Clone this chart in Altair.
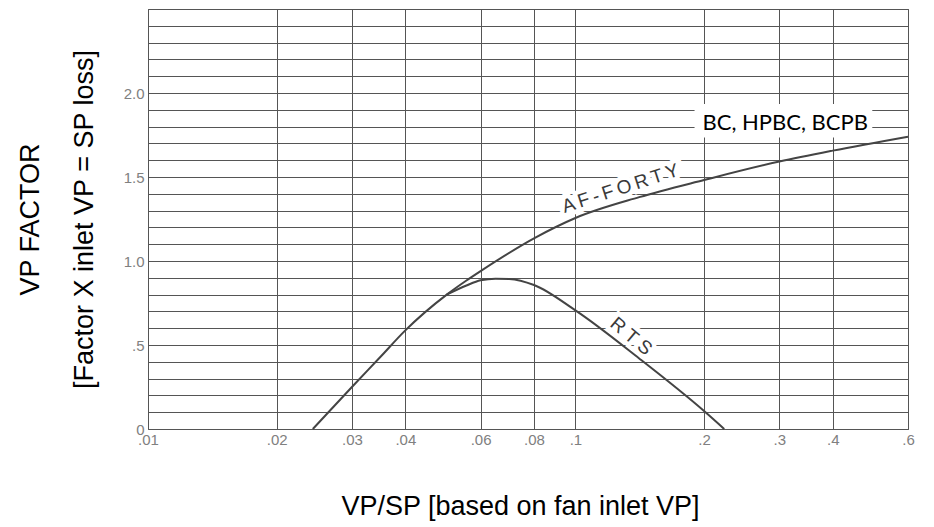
import altair as alt
import pandas as pd

# ---- data ----
af_x = [0.0243, 0.03, 0.035, 0.04, 0.05, 0.0556, 0.06, 0.08, 0.1, 0.141, 0.2, 0.3, 0.4, 0.6]
af_y = [0.0, 0.25, 0.43, 0.587, 0.80, 0.884, 0.94, 1.135, 1.256, 1.38, 1.482, 1.592, 1.657, 1.74]

rts_x = [0.05, 0.0556, 0.06, 0.065, 0.07, 0.08, 0.1, 0.141, 0.2, 0.223]
rts_y = [0.80, 0.854, 0.885, 0.895, 0.893, 0.857, 0.706, 0.42, 0.107, 0.0]

x_ticks = [0.01, 0.02, 0.03, 0.04, 0.06, 0.08, 0.1, 0.2, 0.3, 0.4, 0.6]
y_ticks = [round(i * 0.1, 1) for i in range(26)]

curve_labels = ["A\u2009F\u2009-\u2009F\u2009O\u2009R\u2009T\u2009Y", "R T S"]
curve_label_x = [0.1274, 0.135]
curve_label_y = [1.432, 0.552]
curve_label_angle = [342, 40]

box_text = ["BC, HPBC, BCPB"]
box_x = [0.3096]
box_y = [1.821]
box_x1 = [0.19]
box_x2 = [0.495]
box_y1 = [1.735]
box_y2 = [1.935]

x_title = "VP/SP [based on fan inlet VP]"
y_title = ["VP FACTOR", "[Factor X inlet VP = SP loss]"]

# ---- tables ----
curves = pd.DataFrame({
    "x": af_x + rts_x,
    "y": af_y + rts_y,
    "series": ["AF-FORTY"] * len(af_x) + ["RTS"] * len(rts_x),
})
lab = pd.DataFrame({"x": curve_label_x, "y": curve_label_y,
                    "text": curve_labels, "angle": curve_label_angle})
box = pd.DataFrame({"x": box_x1, "x2": box_x2, "y": box_y1, "y2": box_y2})
boxtxt = pd.DataFrame({"x": box_x, "y": box_y, "text": box_text})

GRID = "#555555"
LAB = "#808080"

X = alt.X("x:Q",
          scale=alt.Scale(type="log", domain=[0.01, 0.6], nice=False),
          axis=alt.Axis(values=x_ticks,
                        labelExpr="substring(toString(datum.value), 1)",
                        title=x_title, titleX=372, titleAlign="center",
                        titlePadding=46, labelPadding=3, labelFlush=False))
Y = alt.Y("y:Q",
          scale=alt.Scale(domain=[0, 2.5], nice=False, zero=False),
          axis=alt.Axis(values=y_ticks,
                        labelExpr="(abs(datum.value*2 - round(datum.value*2)) < 0.001 && datum.value <= 2.001) ? (datum.value == 0 ? '0' : (datum.value < 1 ? '.5' : format(datum.value, '.1f'))) : ''",
                        title=y_title, titleLineHeight=54, titlePadding=25,
                        labelPadding=4))

rect = alt.Chart(box).mark_rect(fill="white", stroke=None).encode(
    x=X, x2="x2:Q", y=Y, y2="y2:Q")

def label_layer(i, halo):
    d = lab.iloc[[i]]
    kw = dict(font="Liberation Sans", fontSize=19, align="center",
              baseline="middle", angle=curve_label_angle[i])
    if halo:
        m = alt.Chart(d).mark_text(fill="white", stroke="white",
                                   strokeWidth=9, **kw)
    else:
        m = alt.Chart(d).mark_text(fill="#3a3a3a", **kw)
    return m.encode(x=X, y=Y, text="text:N")

halos = label_layer(0, True) + label_layer(1, True)
texts = label_layer(0, False) + label_layer(1, False)

lines = alt.Chart(curves).mark_line(
    color="#444444", strokeWidth=2, interpolate="monotone"
).encode(x=X, y=Y, detail="series:N")

boxlabel = alt.Chart(boxtxt).mark_text(
    font="Lato", fontSize=22, color="black", align="center", baseline="middle"
).encode(x=X, y=Y, text="text:N")

chart = alt.layer(rect, halos, lines, texts, boxlabel).properties(
    width=760, height=420,
    padding={"left": 8, "top": 1, "right": 5, "bottom": 5},
    background="white",
).configure_axis(
    grid=True, gridColor=GRID, gridOpacity=1, gridWidth=1,
    domain=False, ticks=False,
    labelFont="Liberation Sans", labelFontSize=15, labelColor=LAB,
    titleFont="Liberation Sans", titleFontSize=27, titleFontWeight="normal",
    titleColor="black",
).configure_view(stroke=GRID, strokeWidth=1)

chart.save("out.html", embed_options={"renderer": "svg", "actions": False})
